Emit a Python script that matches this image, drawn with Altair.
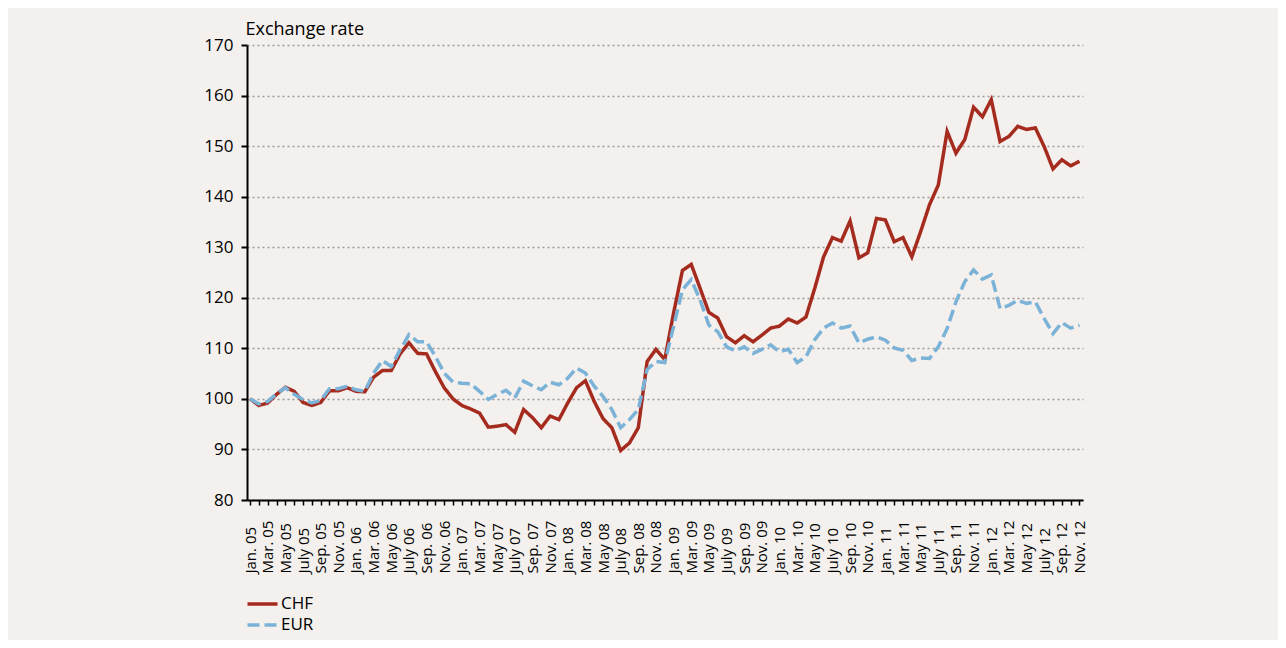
import altair as alt
import pandas as pd

# Month index 0 = Jan. 05 ... 94 = Nov. 12
chf = [100.0, 98.7, 99.2, 100.9, 102.3, 101.5, 99.3, 98.7, 99.3, 101.6, 101.6, 102.2,
       101.5, 101.4, 104.3, 105.6, 105.6, 108.9, 111.1, 109.0, 108.9, 105.4, 102.2, 100.0,
       98.7, 98.0, 97.2, 94.4, 94.6, 94.9, 93.4, 97.9, 96.3, 94.3, 96.6, 95.9,
       99.2, 102.2, 103.6, 99.5, 96.1, 94.3, 89.8, 91.3, 94.3, 107.4, 109.8, 107.8,
       117.0, 125.4, 126.6, 121.9, 117.1, 116.0, 112.3, 111.1, 112.5, 111.3, 112.6, 114.0,
       114.4, 115.8, 115.0, 116.2, 121.9, 128.1, 131.9, 131.2, 135.2, 127.9, 128.9, 135.7,
       135.4, 131.1, 131.9, 128.1, 133.1, 138.4, 142.3, 152.9, 148.6, 151.3, 157.7, 155.8,
       159.2, 150.9, 151.9, 153.9, 153.3, 153.6, 149.9, 145.5, 147.3, 146.1, 147.0]

eur = [100.0, 99.0, 99.5, 101.0, 102.2, 100.9, 99.9, 99.2, 99.7, 102.0, 102.0, 102.5,
       101.8, 101.5, 105.1, 107.6, 106.4, 109.7, 112.7, 111.3, 111.3, 108.4, 105.1, 103.3,
       103.1, 103.0, 101.5, 99.9, 100.9, 101.7, 100.2, 103.5, 102.6, 101.8, 103.3, 102.8,
       104.1, 106.1, 105.1, 102.5, 100.5, 97.9, 94.3, 95.9, 97.9, 105.8, 107.4, 107.2,
       114.3, 121.6, 123.6, 119.6, 114.6, 113.3, 110.3, 109.5, 110.3, 109.0, 109.8, 110.7,
       109.3, 109.8, 107.2, 108.3, 111.7, 114.0, 115.0, 114.0, 114.4, 111.1, 111.8, 112.3,
       111.6, 110.1, 109.6, 107.6, 108.1, 108.0, 110.3, 113.9, 119.2, 123.2, 125.5, 123.7,
       124.5, 117.9, 118.5, 119.5, 118.9, 119.2, 115.9, 112.9, 115.1, 114.0, 114.6]

month_abbr = ["Jan.", "Mar.", "May", "July", "Sep.", "Nov."]
years = ["05", "06", "07", "08", "09", "10", "11", "12"]
tick_labels = [f"{m} {y}" for y in years for m in month_abbr]  # every 2nd month

series_names = ["CHF", "EUR"]
colors = ["#A52B1F", "#7BB2D8"]

rows = []
for i, v in enumerate(chf):
    rows.append({"i": i, "series": "CHF", "value": v})
for i, v in enumerate(eur):
    rows.append({"i": i, "series": "EUR", "value": v})
df = pd.DataFrame(rows)

n = len(chf)
label_array = "[" + ",".join("'" + t + "'" for t in tick_labels) + "]"
label_expr = f"datum.value % 2 == 0 ? {label_array}[datum.value / 2] : ''"

FONT = "Open Sans"

legend = alt.Legend(
    orient="none", legendX=7, legendY=550.5, title=None,
    symbolType="M-3,0H3", symbolSize=100, symbolStrokeWidth=3.5,
    labelFontSize=17, labelFont=FONT, labelColor="black", labelOffset=10,
    rowPadding=3, padding=0,
)

chart = alt.Chart(df).mark_line(strokeWidth=3.5).encode(
    x=alt.X("i:Q",
            scale=alt.Scale(domain=[-0.35, n - 0.6], nice=False, zero=False),
            axis=alt.Axis(values=list(range(n)), labelExpr=label_expr, title=None,
                          grid=False, labelAngle=270, labelAlign="left",
                          labelBaseline="middle", labelPadding=68, tickSize=5,
                          tickWidth=1.5, tickColor="black", domainColor="black",
                          domainWidth=2, labelFontSize=15, labelFont=FONT,
                          labelColor="black", labelOverlap=False, labelFlush=False)),
    y=alt.Y("value:Q",
            scale=alt.Scale(domain=[80, 170], nice=False, zero=False),
            axis=alt.Axis(values=list(range(80, 171, 10)), grid=True, gridDash=[2, 3],
                          gridColor="#9a9a9a", gridWidth=1.5, domainColor="black",
                          domainWidth=2, tickColor="black", tickWidth=2, tickSize=6,
                          labelFontSize=17, labelFont=FONT, labelColor="black",
                          labelPadding=8, title="Exchange rate", titleAngle=0,
                          titleAlign="left", titleBaseline="alphabetic", titleX=-2,
                          titleY=-11, titleFontSize=18, titleFont=FONT,
                          titleFontWeight="normal", titleColor="black")),
    color=alt.Color("series:N", scale=alt.Scale(domain=series_names, range=colors),
                    legend=legend),
    strokeDash=alt.StrokeDash("series:N",
                              scale=alt.Scale(domain=series_names, range=[[1, 0], [12, 5]]),
                              legend=legend),
).properties(
    width=836, height=455,
    autosize=alt.AutoSizeParams(type="none"),
    padding={"left": 239, "top": 37, "right": 195, "bottom": 140},
).configure(
    background="#F3F0ED",
).configure_view(strokeWidth=0)

chart.save("out.html", embed_options={"renderer": "svg", "actions": False})
